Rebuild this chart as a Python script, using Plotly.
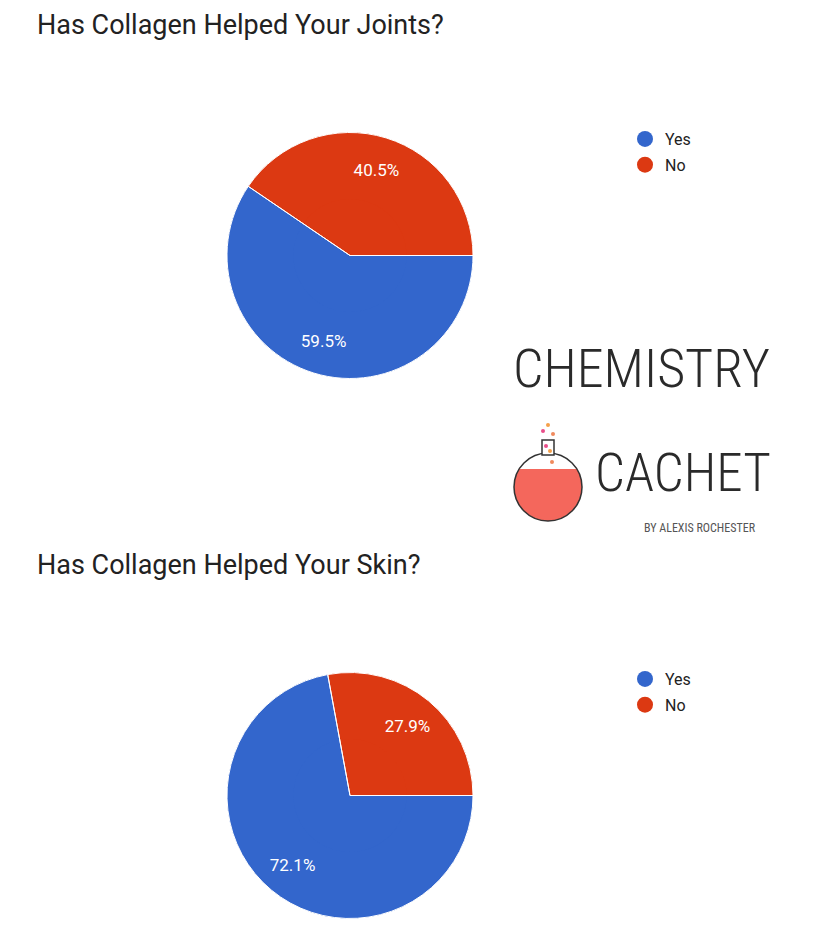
import plotly.graph_objs as go
import numpy as np

# survey answers
labels = ["Yes", "No"]
joints_pct = [59.5, 40.5]
skin_pct = [72.1, 27.9]
colors = ["#3366CC", "#DC3912"]

titles = ["Has Collagen Helped Your Joints?", "Has Collagen Helped Your Skin?"]

# page body has an 8px margin, so the figure is shifted by that much
OFF = 8
W, H = 820 - OFF, 931 - OFF


def px(x):
    return (x - OFF) / W


def py(y):
    return 1 - (y - OFF) / H


fig = go.Figure()

# pies, placed from pixel boxes of the reference
pie_boxes = [(132.5, 378.5), (672.5, 918.5)]
for vals, (top, bot) in zip([joints_pct, skin_pct], pie_boxes):
    dom = dict(x=[px(227), px(473)], y=[py(bot), py(top)])
    common = dict(labels=labels, values=vals, sort=False, direction="clockwise",
                  rotation=90, domain=dom, showlegend=False)
    # full pie underneath (fills the centre)
    fig.add_trace(go.Pie(
        marker=dict(colors=colors, line=dict(width=0)),
        textinfo="none", hoverinfo="skip", **common,
    ))
    # ring carries the labels further out from the centre
    fig.add_trace(go.Pie(
        hole=0.46, marker=dict(colors=colors, line=dict(width=0)),
        texttemplate="%{percent:.1%}", textposition="inside",
        insidetextorientation="horizontal",
        textfont=dict(family="Roboto, Arial, sans-serif", size=17, color="white"),
        hoverinfo="skip", **common,
    ))
    # transparent pie on top for the white slice edges
    fig.add_trace(go.Pie(
        marker=dict(colors=["rgba(0,0,0,0)"] * len(vals),
                    line=dict(color="white", width=1)),
        textinfo="none", hoverinfo="label+percent", **common,
    ))

# circle markers for the legends (dummy points)
for lg in ["legend", "legend2"]:
    for lab, col in zip(labels, colors):
        fig.add_trace(go.Scatter(
            x=[None], y=[None], mode="markers", name=lab, legend=lg,
            legendgroup=lg + lab,
            marker=dict(color=col, size=18, symbol="circle"),
        ))

leg_style = dict(
    xanchor="left", yanchor="top", bgcolor="rgba(0,0,0,0)",
    font=dict(family="Roboto, Arial, sans-serif", size=16, color="#222222"),
    tracegroupgap=2, itemwidth=30,
)
fig.update_layout(
    legend=dict(x=px(625), y=py(122), **leg_style),
    legend2=dict(x=px(625), y=py(662), **leg_style),
)

ann = []
for t, y in zip(titles, [25, 565]):
    ann.append(dict(
        text=t, x=px(35), y=py(y), xref="paper", yref="paper",
        xanchor="left", yanchor="middle", showarrow=False,
        font=dict(family="Roboto, Arial, sans-serif", size=27, color="#222222"),
    ))

# logo text
logo_font = "Roboto Condensed, Liberation Sans Narrow, DejaVu Sans Condensed, sans-serif"
ann.append(dict(text="CHEMISTRY", x=px(641), y=py(368), xref="paper", yref="paper",
                xanchor="center", yanchor="middle", showarrow=False,
                font=dict(family=logo_font, size=54, color="#2a2a2a", weight=300)))
ann.append(dict(text="CACHET", x=px(683), y=py(473), xref="paper", yref="paper",
                xanchor="center", yanchor="middle", showarrow=False,
                font=dict(family=logo_font, size=53, color="#2a2a2a", weight=300)))
ann.append(dict(text="BY ALEXIS ROCHESTER", x=px(700), y=py(528), xref="paper", yref="paper",
                xanchor="center", yanchor="middle", showarrow=False,
                font=dict(family=logo_font, size=12, color="#555555")))

# flask drawing
cx, cy, r = 548, 487, 34
shapes = []
# liquid: lower part of the flask body
lvl = 469
a0 = np.arcsin((lvl - cy) / r)
ang = np.linspace(a0, np.pi - a0, 40)
pts = [(cx + r * np.cos(a), cy + r * np.sin(a)) for a in ang]
path = "M " + " L ".join(f"{px(x):.4f},{py(y):.4f}" for x, y in pts) + " Z"
shapes.append(dict(type="path", path=path, xref="paper", yref="paper",
                   fillcolor="#F4675C", line=dict(width=0)))
shapes.append(dict(type="circle", xref="paper", yref="paper",
                   x0=px(cx - r), x1=px(cx + r), y0=py(cy + r), y1=py(cy - r),
                   line=dict(color="#333333", width=1.5)))
shapes.append(dict(type="rect", xref="paper", yref="paper",
                   x0=px(542), x1=px(554), y0=py(455), y1=py(440),
                   fillcolor="white", line=dict(color="#333333", width=1.5)))
for bx, by, bc in [(548, 425, "#F5A04A"), (543, 431, "#E94E8A"), (553, 434, "#F08A5D"),
                   (546, 446, "#E94E8A"), (550, 451, "#F5A04A"), (552, 462, "#F08A5D")]:
    shapes.append(dict(type="circle", xref="paper", yref="paper",
                       x0=px(bx - 2), x1=px(bx + 2), y0=py(by + 2), y1=py(by - 2),
                       fillcolor=bc, line=dict(width=0)))

fig.update_layout(
    width=W, height=H, margin=dict(l=0, r=0, t=0, b=0),
    paper_bgcolor="white", plot_bgcolor="white",
    xaxis=dict(visible=False), yaxis=dict(visible=False),
    annotations=ann, shapes=shapes,
)

fig.write_html("out.html")
